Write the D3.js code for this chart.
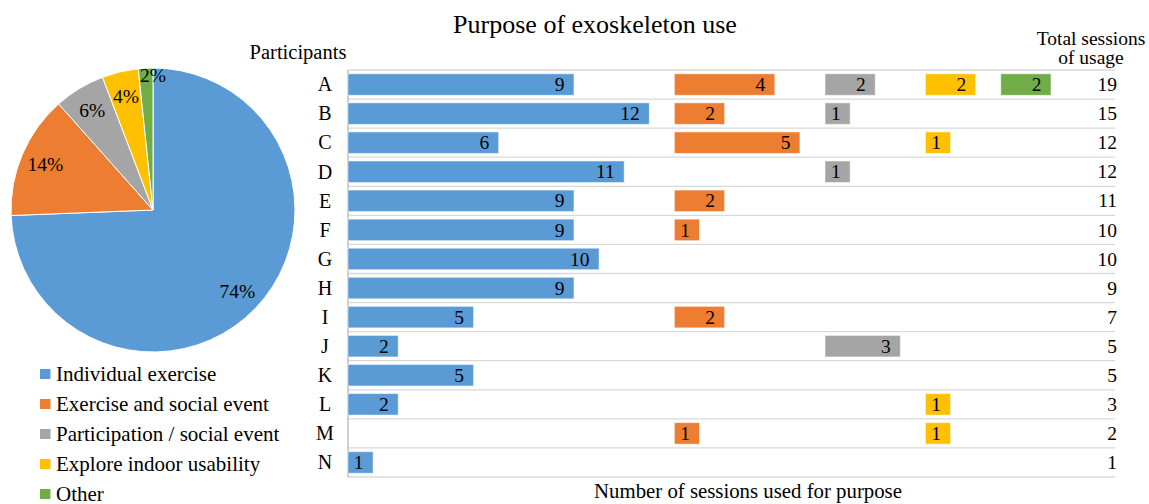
<!DOCTYPE html>
<html>
<head>
<meta charset="utf-8">
<script src="https://cdn.jsdelivr.net/npm/d3@7"></script>
<style>
  body { margin: 0; background: #fff; }
</style>
</head>
<body>
<div id="chart"></div>
<script>
var width = 1149, height = 504;

// data
var participants = ["A","B","C","D","E","F","G","H","I","J","K","L","M","N"];
var purposes = ["Individual exercise", "Exercise and social event", "Participation / social event", "Explore indoor usability", "Other"];
var individualExercise = [9,12,6,11,9,9,10,9,5,2,5,2,0,1];
var exerciseSocial     = [4,2,5,0,2,1,0,0,2,0,0,0,1,0];
var participationSocial= [2,1,0,1,0,0,0,0,0,3,0,0,0,0];
var exploreIndoor      = [2,0,1,0,0,0,0,0,0,0,0,1,1,0];
var other              = [2,0,0,0,0,0,0,0,0,0,0,0,0,0];
var series = [individualExercise, exerciseSocial, participationSocial, exploreIndoor, other];

var colors = ["#5B9BD5","#ED7D31","#A5A5A5","#FFC000","#70AD47"];
// where each purpose column starts, in session units
var colStart = [0, 13, 19, 23, 26];

var svg = d3.select("#chart").append("svg")
  .attr("width", width)
  .attr("height", height);

svg.append("rect")
  .attr("width", width)
  .attr("height", height)
  .attr("fill", "#fff");

// every text goes through here so the serif face sticks
function txt(parent, size){
  return parent.append("text")
    .style("font-family", "'Liberation Serif'")
    .style("font-size", size + "px")
    .attr("fill", "#000");
}

// title
txt(svg, 26)
  .attr("x", 595)
  .attr("y", 33)
  .attr("text-anchor", "middle")
  .text("Purpose of exoskeleton use");

/** bar part */
var xScale = d3.scaleLinear()
  .domain([0, 30.55])
  .range([348, 1115]);
var yScale = d3.scaleBand()
  .domain(participants)
  .range([70, 477])
  .paddingInner(0.26)
  .paddingOuter(0.13);

// gridlines between rows
var step = yScale.step();
d3.range(participants.length + 1).forEach(function(i){
  svg.append("line")
    .attr("x1", xScale(0))
    .attr("x2", xScale.range()[1])
    .attr("y1", 70 + i * step)
    .attr("y2", 70 + i * step)
    .attr("stroke", "#d9d9d9")
    .attr("stroke-width", 1.3);
});

svg.append("line")
  .attr("x1", xScale(0))
  .attr("x2", xScale(0))
  .attr("y1", 70)
  .attr("y2", 477)
  .attr("stroke", "#bfbfbf")
  .attr("stroke-width", 1.5);

series.forEach(function(vals, s){
  var g = svg.append("g").attr("class", "purpose" + s);
  participants.forEach(function(p, i){
    var v = vals[i];
    if (!v) return;
    var x0 = xScale(colStart[s]), x1 = xScale(colStart[s] + v);
    g.append("rect")
      .attr("x", x0)
      .attr("y", yScale(p))
      .attr("width", x1 - x0)
      .attr("height", yScale.bandwidth())
      .attr("fill", colors[s])
      .attr("stroke", "#fff")
      .attr("stroke-opacity", 0.5)
      .attr("stroke-width", 1);
    txt(g, 19.5)
      .attr("x", x1 - 9.5)
      .attr("y", yScale(p) + yScale.bandwidth() / 2)
      .attr("dy", "0.34em")
      .attr("text-anchor", "end")
      .text(v);
  });
});

// row labels
participants.forEach(function(p){
  txt(svg, 20)
    .attr("x", 325)
    .attr("y", yScale(p) + yScale.bandwidth() / 2)
    .attr("dy", "0.34em")
    .attr("text-anchor", "middle")
    .text(p);
});
txt(svg, 20.5)
  .attr("x", 298)
  .attr("y", 59)
  .attr("text-anchor", "middle")
  .text("Participants");

// totals column
participants.forEach(function(p, i){
  var total = d3.sum(series, function(s){ return s[i]; });
  txt(svg, 19.5)
    .attr("x", 1117)
    .attr("y", yScale(p) + yScale.bandwidth() / 2)
    .attr("dy", "0.34em")
    .attr("text-anchor", "end")
    .text(total);
});
["Total sessions", "of usage"].forEach(function(t, i){
  txt(svg, 19.5)
    .attr("x", 1091)
    .attr("y", 45 + i * 19)
    .attr("text-anchor", "middle")
    .text(t);
});

txt(svg, 20.8)
  .attr("x", 748)
  .attr("y", 498)
  .attr("text-anchor", "middle")
  .text("Number of sessions used for purpose");

/** pie part */
var pieValues = series.map(function(s){ return d3.sum(s); });
var pieTotal = d3.sum(pieValues);
var pie = d3.pie().sort(null).value(function(d){ return d; });
var arc = d3.arc().innerRadius(0).outerRadius(142);
var pg = svg.append("g").attr("transform", "translate(153,210)");
var arcs = pie(pieValues);
pg.selectAll("path")
  .data(arcs)
  .enter().append("path")
  .attr("d", arc)
  .attr("fill", function(d, i){ return colors[i]; })
  .attr("stroke", "#fff")
  .attr("stroke-width", 1);

arcs.forEach(function(d){
  var share = d.value / pieTotal;
  var r = share < 0.03 ? 135 : 117;
  var a = share < 0.03 ? d.endAngle : (d.startAngle + d.endAngle) / 2;
  txt(pg, 19.5)
    .attr("x", Math.sin(a) * r)
    .attr("y", -Math.cos(a) * r)
    .attr("dy", "0.34em")
    .attr("text-anchor", "middle")
    .text(Math.round(share * 100) + "%");
});

// legend
purposes.forEach(function(name, i){
  svg.append("rect")
    .attr("x", 40)
    .attr("y", 369 + i * 30)
    .attr("width", 10.5)
    .attr("height", 10)
    .attr("fill", colors[i]);
  txt(svg, 21)
    .attr("x", 56)
    .attr("y", 380.5 + i * 30)
    .text(name);
});
</script>
</body>
</html>
